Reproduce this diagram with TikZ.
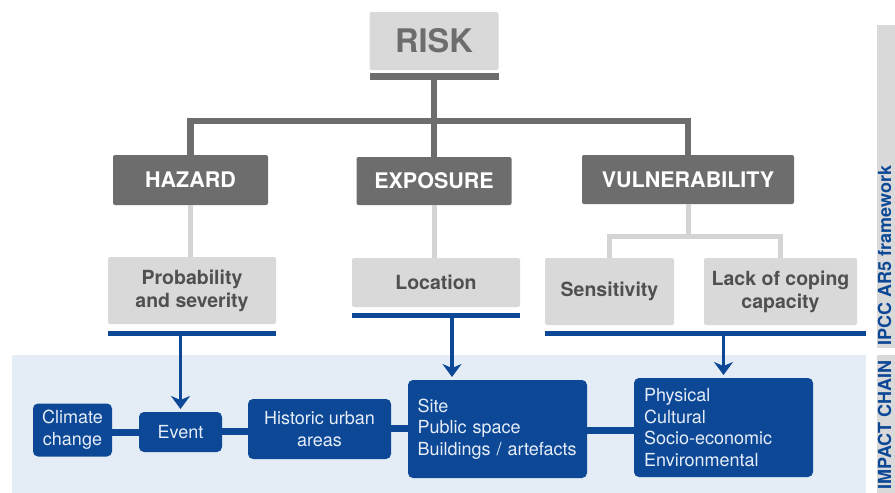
\documentclass[tikz,border=0pt]{standalone}
\usepackage{fontspec}
\setmainfont{TeX Gyre Heros}
\usetikzlibrary{arrows.meta}

\definecolor{boxlight}{HTML}{D9D9D9}
\definecolor{boxdark}{HTML}{6D6D6D}
\definecolor{linelight}{HTML}{D4D4D4}
\definecolor{textdark}{HTML}{505050}
\definecolor{chainblue}{HTML}{0C4896}
\definecolor{chainbg}{HTML}{E4ECF5}
\definecolor{chaintext}{HTML}{E6EDF8}

\tikzset{
  riskbox/.style={fill=boxlight, rounded corners=2pt, inner sep=0, outer sep=0, text=boxdark,
    font=\bfseries\fontsize{32.5}{36}\selectfont},
  factorbox/.style={fill=boxdark, rounded corners=2pt, inner sep=0, outer sep=0, text=white,
    font=\bfseries\fontsize{21.5}{24}\selectfont},
  compbox/.style={fill=boxlight, rounded corners=2pt, inner sep=0, outer sep=0, text=textdark,
    align=center, font=\bfseries\fontsize{19.5}{23}\selectfont},
  chainbox/.style={fill=chainblue, rounded corners=5pt, inner sep=0, outer sep=0, text=chaintext,
    align=center, font=\fontsize{18}{21.7}\selectfont},
  listbox/.style={chainbox, align=left, text width=#1},
  bar/.style={inner sep=0, outer sep=0, minimum height=#1},
  darkline/.style={boxdark, line width=6.5pt},
  lightline/.style={linelight, line width=5pt},
  chainline/.style={chainblue, line width=7pt},
  bluearrow/.style={chainblue, line width=3.5pt, shorten >=3pt, -{Stealth[length=13pt,width=19pt,inset=4pt]}},
  sidelabel/.style={rotate=90, inner sep=0, text=chainblue, font=\bfseries\fontsize{18}{21}\selectfont}
}

\begin{document}
\begin{tikzpicture}[x=1pt, y=-1pt]
\useasboundingbox (0,0) rectangle (895,493);

% side strips
\fill[boxlight] (877,25) rectangle (895,348);
\fill[boxlight] (877,355) rectangle (895,493);
\node[sidelabel, anchor=base west] (ipcc) at (891,346) {IPCC AR5 framework};
\node[sidelabel, anchor=base west] (chain) at (891,490) {IMPACT CHAIN};

% impact chain background
\fill[chainbg] (12,355) rectangle (866,493);

% risk tree
\node[riskbox, minimum width=129pt, minimum height=58pt] (risk) at (434,41) {RISK};
\node[bar=7pt, fill=boxdark, minimum width=129pt] (riskbar) at (434,76.5) {};

\node[factorbox, minimum width=155pt, minimum height=50pt] (hazard) at (190.5,180) {HAZARD};
\node[factorbox, minimum width=155pt, minimum height=48pt] (exposure) at (434,181) {EXPOSURE};
\node[factorbox, minimum width=212pt, minimum height=49pt] (vuln) at (688,179.5) {VULNERABILITY};

\coordinate (joint) at (434,121);
\draw[darkline] (riskbar.south) -- (exposure.north);
\draw[darkline] (hazard.north) |- (joint) -| (vuln.north);

% components
\node[compbox, minimum width=168pt, minimum height=67pt] (prob) at (192,290.5) {Probability\\and severity};
\node[compbox, minimum width=168pt, minimum height=49pt] (loc) at (436,282.5) {Location};
\node[compbox, minimum width=129pt, minimum height=67pt] (sens) at (609.5,291.5) {Sensitivity};
\node[compbox, minimum width=153pt, minimum height=67pt] (lack) at (780.5,291.5) {Lack of coping\\capacity};

\draw[lightline] (hazard.south) -- (hazard.south |- prob.north);
\draw[lightline] (exposure.south) -- (exposure.south |- loc.north);
\draw[lightline] (vuln.south) -- ++(0,32);
\draw[lightline] (sens.north) -- ++(0,-22) -| (lack.north);

\node[bar=5pt, fill=chainblue, minimum width=168pt] (probbar) at (192,333.5) {};
\node[bar=5pt, fill=chainblue, minimum width=168pt] (locbar) at (436,315.5) {};
\node[bar=5pt, fill=chainblue, minimum width=321pt] (vulnbar) at (705.5,333.5) {};

% impact chain
\node[chainbox, minimum width=79pt, minimum height=53pt] (clim) at (72.5,430) {Climate\\change};
\node[chainbox, minimum width=83pt, minimum height=40pt] (event) at (180.5,432) {Event};
\node[chainbox, minimum width=143pt, minimum height=60pt] (hist) at (319.5,429) {Historic urban\\areas};
\node[listbox=160pt, minimum width=179pt, minimum height=98pt] (site) at (497.5,429) {Site\\Public space\\\mbox{Buildings / artefacts}};
\node[listbox=159pt, minimum width=179pt, minimum height=99pt] (phys) at (723.5,427.5) {Physical\\Cultural\\Socio-economic\\Environmental};

\draw[chainline] (clim.east |- 0,432) -- (event.west |- 0,432);
\draw[chainline] (event.east |- 0,431) -- (hist.west |- 0,431);
\draw[chainline] (hist.east |- 0,428) -- (site.west |- 0,428);
\draw[chainline] (site.east |- 0,430) -- (phys.west |- 0,430);

\draw[bluearrow] (probbar.south -| event.north) -- (event.north);
\draw[bluearrow] ([xshift=16pt]locbar.south) -- ([xshift=16pt]locbar.south |- site.north);
\draw[bluearrow] (vulnbar.south -| phys.north) -- (phys.north);

\end{tikzpicture}
\end{document}
